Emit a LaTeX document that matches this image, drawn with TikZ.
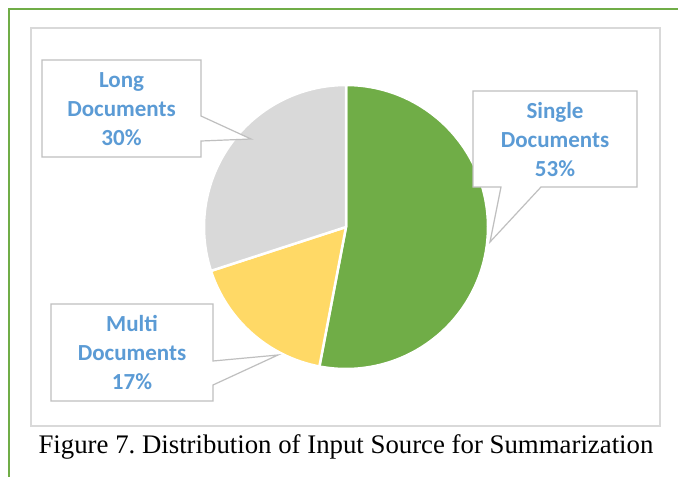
\documentclass[tikz,border=0pt]{standalone}
\usepackage{fontspec}
\setmainfont{Liberation Serif}
\newfontfamily\lblfont{Carlito}
\frenchspacing
\definecolor{pgreen}{HTML}{70AD47}
\definecolor{pyellow}{HTML}{FFD966}
\definecolor{pgrey}{HTML}{D9D9D9}
\definecolor{lblblue}{HTML}{5B9BD5}
\definecolor{calloutgrey}{HTML}{BFBFBF}
\definecolor{areagrey}{HTML}{D9D9D9}
\begin{document}
\begin{tikzpicture}[x=1pt,y=-1pt,
  slice/.style={draw=white,line width=2.5pt,line join=round},
  callout/.style={draw=calloutgrey,fill=white,line width=1.2pt,line join=miter},
  lbl/.style={text=lblblue,font=\lblfont\bfseries\fontsize{23}{29}\selectfont,align=center,inner sep=0pt},
  caption/.style={font=\fontsize{26.8}{30}\selectfont,inner sep=0pt}]
\useasboundingbox (0,0) rectangle (678,477);
\fill[white] (0,0) rectangle (678,477);
% outer green frame
\draw[pgreen,line width=2.2pt] (9,477) -- (9,9) -- (678,9);
% chart area
\draw[areagrey,line width=1.3pt] (31,28) rectangle (660,426);
% pie
\begin{scope}[shift={(346,227)},yscale=-1]
  \filldraw[slice,fill=pgreen] (0,0) -- (90:142) arc[start angle=90,end angle=-100.8,radius=142] -- cycle;
  \filldraw[slice,fill=pyellow] (0,0) -- (-100.8:142) arc[start angle=-100.8,end angle=-162,radius=142] -- cycle;
  \filldraw[slice,fill=pgrey] (0,0) -- (-162:142) arc[start angle=-162,end angle=-270,radius=142] -- cycle;
\end{scope}
% callout tips
\coordinate (tipL) at (251,139);
\coordinate (tipS) at (490,242);
\coordinate (tipM) at (278,355);
% callouts
\draw[callout] (42,60) -- (201,60) -- (201,116) -- (tipL) -- (201,141) -- (201,157) -- (42,157) -- cycle;
\draw[callout] (473,91) -- (637,91) -- (637,187) -- (541,187) -- (tipS) -- (501,187) -- (473,187) -- cycle;
\draw[callout] (51,304) -- (213,304) -- (213,361) -- (tipM) -- (213,385) -- (213,401) -- (51,401) -- cycle;
% labels
\node[lbl] (long) at (121.5,109) {Long\\Documents\\30\%};
\node[lbl] (single) at (555,140) {Single\\Documents\\53\%};
\node[lbl] (multi) at (132,353) {Multi\\Documents\\17\%};
% caption
\node[caption,anchor=base] (cap) at (346,453) {Figure 7. Distribution of Input Source for Summarization};
\end{tikzpicture}
\end{document}
